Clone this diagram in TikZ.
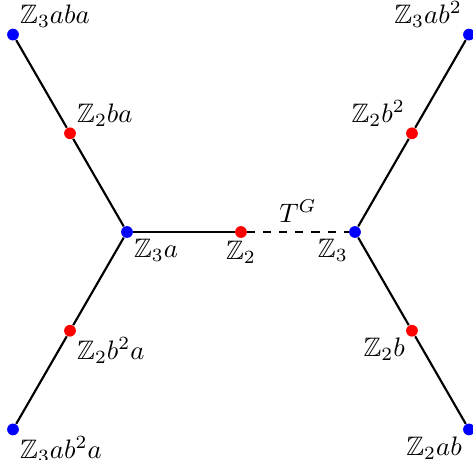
\documentclass[tikz,border=0pt]{standalone}
\usepackage{amssymb}
\begin{document}
\begin{tikzpicture}[x=1.5cm,y=1.5cm,
  bdot/.style={circle,fill=blue,inner sep=0pt,minimum size=4.4pt},
  rdot/.style={circle,fill=red,inner sep=0pt,minimum size=4.4pt},
  lab/.style={inner sep=0.8pt},
  edgeline/.style={thick}]
\useasboundingbox (-3.171cm,-2.987cm) rectangle (3.053cm,3.053cm);
\node[bdot,label={[lab]below right:$\mathbb{Z}_3a$}] (L) at (-1,0) {};
\node[rdot,label={[lab]below:$\mathbb{Z}_2$}] (M) at (0,0) {};
\node[bdot,label={[lab]below left:$\mathbb{Z}_3$}] (R) at (1,0) {};
\node[rdot,label={[lab]above right:$\mathbb{Z}_2ba$}] (LU) at (-1.5,0.866) {};
\node[bdot,label={[lab]above right:$\mathbb{Z}_3aba$}] (LUU) at (-2,1.732) {};
\node[rdot,label={[lab]below right:$\mathbb{Z}_2b^2a$}] (LD) at (-1.5,-0.866) {};
\node[bdot,label={[lab]below right:$\mathbb{Z}_3ab^2a$}] (LDD) at (-2,-1.732) {};
\node[rdot,label={[lab]above left:$\mathbb{Z}_2b^2$}] (RU) at (1.5,0.866) {};
\node[bdot,label={[lab]above left:$\mathbb{Z}_3ab^2$}] (RUU) at (2,1.732) {};
\node[rdot,label={[lab]below left:$\mathbb{Z}_2b$}] (RD) at (1.5,-0.866) {};
\node[bdot,label={[lab]below left:$\mathbb{Z}_2ab$}] (RDD) at (2,-1.732) {};
\draw[edgeline] (LUU) -- (LU) -- (L) -- (LD) -- (LDD);
\draw[edgeline] (L) -- (M);
\draw[edgeline,dashed] (M) -- node[above] {$T^G$} (R);
\draw[edgeline] (RUU) -- (RU) -- (R) -- (RD) -- (RDD);
\end{tikzpicture}
\end{document}
